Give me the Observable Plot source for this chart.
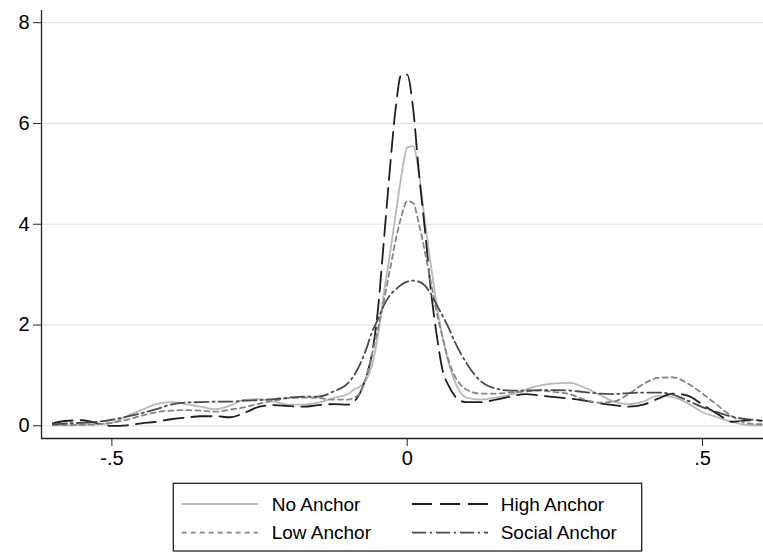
<!DOCTYPE html>
<html><head><meta charset="utf-8">
<script src="https://cdn.jsdelivr.net/npm/d3@7"></script>
<script src="https://cdn.jsdelivr.net/npm/@observablehq/plot@0.6"></script>
<style>
html,body{margin:0;padding:0;background:#fff;}
#wrap{position:relative;width:763px;height:552px;font-family:"Liberation Sans",Arial,Helvetica,sans-serif;background:#fff;}
#legend{position:absolute;left:0;top:475px;}
</style></head><body><div id="wrap"><div id="chart"></div><svg id="legend" width="763" height="77"></svg></div>
<script>
// ---- data (kernel density estimates) ----
const xs = [
  -0.600,-0.575,-0.550,-0.525,-0.500,-0.475,-0.450,-0.425,-0.400,-0.375,-0.350,-0.325,-0.300,-0.275,-0.250,-0.225,-0.200,-0.175,-0.150,-0.125,
  -0.10,-0.09,-0.08,-0.07,-0.06,-0.05,-0.04,-0.03,-0.02,-0.01,0.00,0.01,0.02,0.03,0.04,0.05,0.06,0.07,0.08,0.09,0.10,
  0.125,0.150,0.175,0.200,0.225,0.250,0.275,0.300,0.325,0.350,0.375,0.400,0.425,0.450,0.475,0.500,0.525,0.550,0.575,0.600
];
const noAnchor = [
  0.01,0.01,0.02,0.03,0.06,0.19,0.31,0.43,0.47,0.43,0.38,0.33,0.40,0.52,0.53,0.48,0.42,0.42,0.46,0.55,
  0.63,0.72,0.78,0.90,1.18,1.75,2.60,3.35,4.15,4.95,5.52,5.55,5.00,4.05,3.20,2.40,1.75,1.25,0.90,0.66,0.56,
  0.52,0.56,0.62,0.72,0.80,0.84,0.85,0.76,0.62,0.48,0.43,0.48,0.60,0.57,0.45,0.27,0.17,0.08,0.02,0.01
];
const highAnchor = [
  0.05,0.10,0.11,0.05,0.00,0.01,0.05,0.08,0.13,0.16,0.19,0.19,0.17,0.26,0.38,0.41,0.39,0.38,0.41,0.43,
  0.42,0.48,0.65,0.95,1.40,2.25,3.60,5.00,6.25,6.97,6.97,6.30,5.00,3.90,2.70,1.80,1.10,0.80,0.60,0.50,0.47,
  0.47,0.52,0.58,0.63,0.60,0.57,0.54,0.50,0.45,0.41,0.38,0.42,0.54,0.64,0.60,0.42,0.24,0.08,0.11,0.10
];
const lowAnchor = [
  0.02,0.02,0.02,0.03,0.06,0.12,0.20,0.27,0.30,0.31,0.30,0.28,0.32,0.37,0.44,0.50,0.55,0.56,0.55,0.52,
  0.52,0.56,0.65,0.95,1.40,1.90,2.45,3.05,3.65,4.15,4.46,4.42,4.00,3.45,2.85,2.25,1.75,1.30,1.00,0.82,0.72,
  0.64,0.64,0.66,0.68,0.70,0.67,0.63,0.52,0.46,0.48,0.63,0.83,0.95,0.96,0.84,0.64,0.41,0.19,0.05,0.03
];
const socialAnchor = [
  0.03,0.05,0.06,0.08,0.12,0.18,0.25,0.33,0.42,0.46,0.47,0.48,0.48,0.50,0.51,0.53,0.56,0.58,0.58,0.68,
  0.85,1.00,1.22,1.50,1.85,2.10,2.38,2.58,2.70,2.80,2.86,2.88,2.86,2.78,2.62,2.40,2.18,1.95,1.68,1.45,1.25,
  0.88,0.74,0.70,0.70,0.71,0.71,0.70,0.67,0.64,0.63,0.65,0.66,0.66,0.62,0.50,0.37,0.27,0.18,0.13,0.11
];
const seriesNames = ["No Anchor","High Anchor","Low Anchor","Social Anchor"];
const seriesValues = [noAnchor, highAnchor, lowAnchor, socialAnchor];
const seriesColors = ["#b9b9b9","#1e1e1e","#858585","#4a4a4a"];
const seriesDash = [null,"20,8","5,4","14,4,2,4"];
const xTicks = [-0.5, 0, 0.5];
const xTickLabels = ["-.5","0",".5"];
const yTicks = [0,2,4,6,8];

// ---- chart ----
const FONT = "'Liberation Sans', Arial, Helvetica, sans-serif";
const xDomain = [-0.6192, 0.6033];
const yDomain = [-0.252, 8.242];

const lineMarks = seriesNames.map((name, i) => {
  const rows = xs.map((x, j) => ({x, y: seriesValues[i][j], series: name}));
  const opts = {x: "x", y: "y", stroke: seriesColors[i], strokeWidth: 1.8, curve: "monotone-x"};
  if (seriesDash[i]) opts.strokeDasharray = seriesDash[i];
  return Plot.line(rows, opts);
});

const chart = Plot.plot({
  width: 763, height: 475,
  marginLeft: 41, marginRight: 0, marginTop: 10, marginBottom: 37,
  style: {fontFamily: FONT, fontSize: "20px", background: "#fff", color: "#000", overflow: "visible"},
  x: {domain: xDomain, label: null},
  y: {domain: yDomain, label: null},
  marks: [
    Plot.gridY(yTicks, {stroke: "#e4e4e4", strokeOpacity: 1, strokeWidth: 1.2}),
    ...lineMarks,
    Plot.ruleX([xDomain[0]], {stroke: "#222", strokeWidth: 1.3}),
    Plot.ruleY([yDomain[0]], {stroke: "#222", strokeWidth: 1.3}),
    Plot.axisY(yTicks, {tickSize: 8, tickPadding: 4, fontSize: 20, stroke: "#222", tickFormat: d => String(d), label: null}),
    Plot.axisX(xTicks, {tickSize: 8, tickPadding: 4, fontSize: 20, stroke: "#222", tickFormat: d => xTickLabels[xTicks.indexOf(d)], label: null})
  ]
});
document.getElementById("chart").appendChild(chart);

// ---- legend ----
const lg = d3.select("#legend");
lg.append("rect").attr("x", 173.3).attr("y", 8.3).attr("width", 468.4).attr("height", 67.7)
  .attr("fill", "#fff").attr("stroke", "#222").attr("stroke-width", 1.3);
const colX = [[181.7, 258, 271.7], [412, 488, 500.7]];
const rowY = [29, 57.7];
seriesNames.forEach((name, i) => {
  const col = i % 2, row = Math.floor(i / 2);
  const [x1, x2, tx] = colX[col];
  const y = rowY[row];
  const ln = lg.append("line").attr("x1", x1).attr("x2", x2).attr("y1", y).attr("y2", y)
    .attr("stroke", seriesColors[i]).attr("stroke-width", 1.8);
  if (seriesDash[i]) ln.attr("stroke-dasharray", seriesDash[i]);
  lg.append("text").attr("x", tx).attr("y", y).attr("dy", "0.35em")
    .attr("font-family", FONT).attr("font-size", 19).attr("fill", "#000").text(name);
});
</script>
</body></html>
